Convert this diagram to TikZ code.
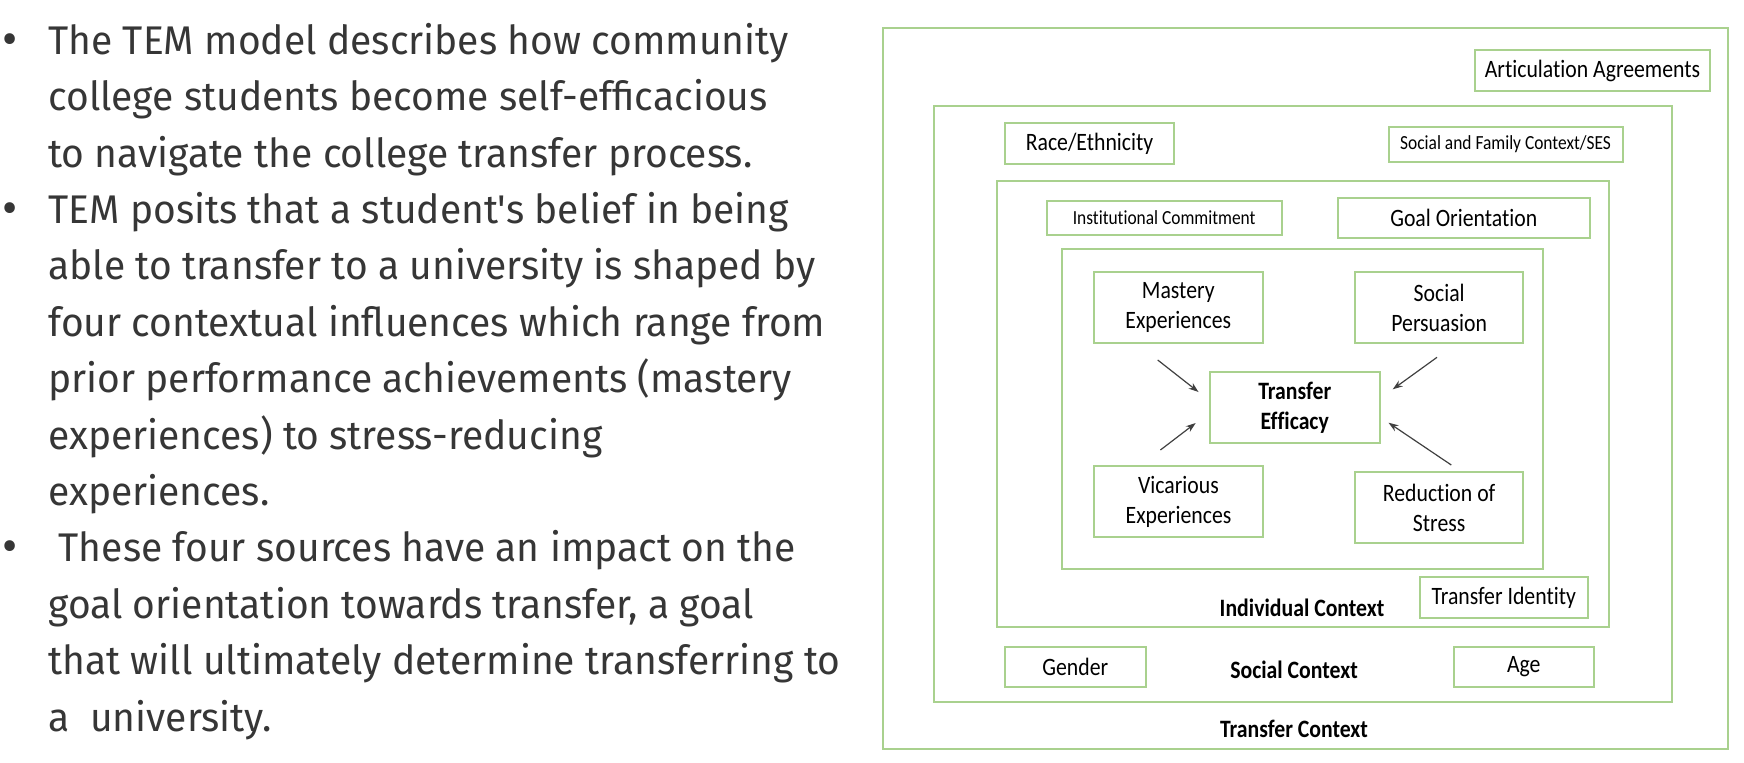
\documentclass[tikz,border=0pt]{standalone}
\usepackage{fontspec}
\usetikzlibrary{arrows.meta}
\newfontfamily\bodyfont[FakeStretch=0.975]{Fira Sans}
\newfontfamily\diagfont[FakeStretch=0.87,Ligatures=NoCommon]{Carlito}
\definecolor{boxgreen}{HTML}{A9D18E}
\definecolor{bodygray}{HTML}{363636}
\definecolor{arrowgray}{HTML}{404040}
\begin{document}
\begin{tikzpicture}[x=0.5pt,y=-0.5pt,
  frame/.style={draw=boxgreen,line width=1pt,inner sep=0pt},
  lbox/.style={frame,align=center,font=\diagfont\fontsize{12.5}{15}\selectfont},
  sbox/.style={frame,align=center,font=\diagfont\fontsize{10}{12}\selectfont},
  ctxlabel/.style={anchor=base,inner sep=0pt,font=\diagfont\bfseries\fontsize{12.5}{15}\selectfont},
  bodyline/.style={anchor=base west,inner sep=0pt,text=bodygray,font=\bodyfont\fontsize{20}{28.2}\selectfont},
  bulletmark/.style={anchor=base,inner sep=0pt,text=bodygray,font=\bodyfont\fontsize{24}{28.2}\selectfont},
  infl/.style={-{Stealth[length=5pt,width=3.5pt]},draw=arrowgray,line width=0.6pt}]
\useasboundingbox (0,0) rectangle (1744,762);
% ---------- left text ----------
\node[bulletmark] (b1) at (10,55.3) {•};
\node[bulletmark] (b2) at (10,224.5) {•};
\node[bulletmark] (b3) at (10,562.9) {•};
\node[bodyline] (l1) at (48,54.3) {The TEM model describes how community};
\node[bodyline] (l2) at (48,110.7) {college students become self-efficacious};
\node[bodyline] (l3) at (48,167.1) {to navigate the college transfer process.};
\node[bodyline] (l4) at (48,223.5) {TEM posits that a student's belief in being};
\node[bodyline] (l5) at (48,279.9) {able to transfer to a university is shaped by};
\node[bodyline] (l6) at (48,336.3) {four contextual influences which range from};
\node[bodyline] (l7) at (48,392.7) {prior performance achievements (mastery};
\node[bodyline] (l8) at (48,449.1) {experiences) to stress-reducing};
\node[bodyline] (l9) at (48,505.5) {experiences.};
\node[bodyline] (l10) at (48,561.9) {\ These four sources have an impact on the};
\node[bodyline] (l11) at (48,618.3) {goal orientation towards transfer, a goal};
\node[bodyline] (l12) at (48,674.7) {that will ultimately determine transferring to};
\node[bodyline] (l13) at (48,731.1) {a\ \ university.};
% ---------- nested context frames ----------
\node[frame,minimum width=422.5pt,minimum height=360.5pt] (transferctx) at (1305.5,388.5) {};
\node[frame,minimum width=369.25pt,minimum height=298pt] (socialctx) at (1302.75,404) {};
\node[frame,minimum width=306pt,minimum height=223.25pt] (indivctx) at (1303,403.75) {};
\node[frame,minimum width=240.85pt,minimum height=159.85pt] (efficacyctx) at (1302.45,409.15) {};
% ---------- boxes ----------
\node[lbox,minimum width=117.5pt,minimum height=20.5pt] (artic) at (1592.5,70.5) {Articulation Agreements};
\node[lbox,minimum width=84.5pt,minimum height=20.5pt] (race) at (1089.5,143.5) {Race/Ethnicity};
\node[sbox,minimum width=117pt,minimum height=17.2pt] (ses) at (1505.6,144.5) {Social and Family Context/SES};
\node[sbox,minimum width=117.5pt,minimum height=17.15pt] (inst) at (1164.2,217.85) {Institutional Commitment};
\node[lbox,minimum width=126.25pt,minimum height=19.7pt] (goal) at (1463.75,218) {Goal Orientation};
\node[lbox,minimum width=84.25pt,minimum height=35.5pt] (mastery) at (1178.25,307.8) {Mastery\\Experiences};
\node[lbox,minimum width=84.25pt,minimum height=35.5pt] (persuasion) at (1439.15,307.8) {Social\\Persuasion};
\node[lbox,minimum width=84.75pt,minimum height=35.2pt,font=\diagfont\bfseries\fontsize{12.5}{15}\selectfont] (efficacy) at (1294.75,407.5) {Transfer\\Efficacy};
\node[lbox,minimum width=84.5pt,minimum height=35.5pt] (vicarious) at (1178.5,501.5) {Vicarious\\Experiences};
\node[lbox,minimum width=84.25pt,minimum height=35.5pt] (stress) at (1439.15,507.8) {Reduction of\\Stress};
\node[lbox,minimum width=84.25pt,minimum height=20.2pt] (identity) at (1503.75,597.5) {Transfer Identity};
\node[lbox,minimum width=70.25pt,minimum height=20.3pt] (gender) at (1075.25,667) {Gender};
\node[lbox,minimum width=70.25pt,minimum height=20.3pt] (age) at (1523.75,667) {Age};
% ---------- context labels ----------
\node[ctxlabel] (indivlabel) at (1302,616) {Individual Context};
\node[ctxlabel] (sociallabel) at (1294,678) {Social Context};
\node[ctxlabel] (transferlabel) at (1294,737) {Transfer Context};
% ---------- arrows ----------
\coordinate (m0) at (1157.7,360); \coordinate (m1) at (1198.5,392);
\coordinate (p0) at (1437,357.3); \coordinate (p1) at (1392.7,389.3);
\coordinate (v0) at (1160.4,450); \coordinate (v1) at (1195.7,423);
\coordinate (r0) at (1451.3,465); \coordinate (r1) at (1388.5,422.7);
\draw[infl] (m0) -- (m1);
\draw[infl] (p0) -- (p1);
\draw[infl] (v0) -- (v1);
\draw[infl] (r0) -- (r1);
\end{tikzpicture}
\end{document}
